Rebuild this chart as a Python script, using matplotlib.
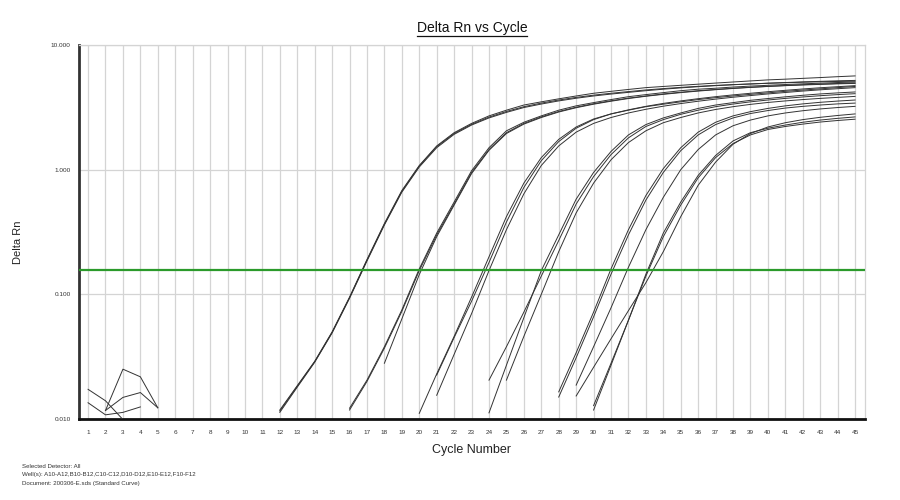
import numpy as np
import matplotlib
matplotlib.use("Agg")
import matplotlib.pyplot as plt
from matplotlib.lines import Line2D

plt.rcParams['font.family'] = ['Liberation Sans', 'DejaVu Sans']

# ---------------- data ----------------
TITLE = "Delta Rn vs Cycle"
X_LABEL = "Cycle Number"
Y_LABEL = "Delta Rn"
X_TICKS = list(range(1, 46))
Y_TICKS = [0.01, 0.1, 1.0, 10.0]
Y_TICK_LABELS = ["0.010", "0.100", "1.000", "10.000"]
THRESHOLD = 0.156
FOOTER = ["Selected Detector: All",
          "Well(s): A10-A12,B10-B12,C10-C12,D10-D12,E10-E12,F10-F12",
          "Document: 200306-E.sds (Standard Curve)"]

# early-cycle noise segments
N1_START = 1
N1 = [0.0173, 0.0140, 0.0099]
N2_START = 1
N2 = [0.0135, 0.0108, 0.0113, 0.0125]
N3_START = 2
N3 = [0.0117, 0.0251, 0.0218, 0.0123]
N4_START = 2
N4 = [0.0117, 0.0149, 0.0163, 0.0123]

# amplification curves (start cycle, values up to cycle 45)
G1_R1_START = 12
G1_R1 = [0.0118, 0.0185, 0.029, 0.050, 0.095, 0.19, 0.37, 0.68, 1.08, 1.55, 1.98, 2.35, 2.7, 3.0, 3.3, 3.5, 3.7,
         3.9, 4.1, 4.25, 4.4, 4.55, 4.65, 4.75, 4.85, 4.95, 5.05, 5.15, 5.25, 5.32, 5.4, 5.48, 5.57, 5.65]
G1_R2_START = 12
G1_R2 = [0.0113, 0.018, 0.0285, 0.049, 0.093, 0.185, 0.36, 0.66, 1.05, 1.5, 1.92, 2.28, 2.6, 2.88, 3.15, 3.36, 3.56,
         3.74, 3.9, 4.04, 4.17, 4.3, 4.42, 4.53, 4.63, 4.72, 4.8, 4.87, 4.94, 5.0, 5.06, 5.11, 5.16, 5.2]
G1_R3_START = 12
G1_R3 = [0.0116, 0.0183, 0.0288, 0.0495, 0.094, 0.188, 0.365, 0.67, 1.07, 1.53, 1.95, 2.31, 2.64, 2.93, 3.2, 3.42,
         3.62, 3.8, 3.96, 4.1, 4.23, 4.36, 4.47, 4.57, 4.66, 4.74, 4.81, 4.87, 4.93, 4.98, 5.03, 5.07, 5.1, 5.13]
G2_R1_START = 16
G2_R1 = [0.0122, 0.0205, 0.038, 0.075, 0.16, 0.31, 0.55, 0.98, 1.5, 2.05, 2.4, 2.7, 3.0, 3.25, 3.45, 3.65, 3.85,
         4.0, 4.15, 4.3, 4.42, 4.5, 4.6, 4.68, 4.75, 4.82, 4.88, 4.94, 5.0, 5.05]
G2_R2_START = 16
G2_R2 = [0.0118, 0.02, 0.037, 0.073, 0.155, 0.3, 0.53, 0.95, 1.45, 1.98, 2.35, 2.65, 2.93, 3.17, 3.38, 3.57, 3.75,
         3.9, 4.05, 4.18, 4.3, 4.4, 4.5, 4.58, 4.66, 4.73, 4.8, 4.86, 4.91, 4.96]
G2_R3_START = 18
G2_R3 = [0.028, 0.0635, 0.144, 0.29, 0.52, 0.93, 1.43, 1.95, 2.32, 2.62, 2.9, 3.14, 3.35, 3.54, 3.72, 3.88, 4.02,
         4.15, 4.27, 4.38, 4.48, 4.57, 4.65, 4.72, 4.78, 4.83, 4.88, 4.92]
G3_R1_START = 20
G3_R1 = [0.0111, 0.023, 0.046, 0.095, 0.2, 0.42, 0.78, 1.25, 1.75, 2.2, 2.55, 2.8, 3.0, 3.2, 3.35, 3.5, 3.65, 3.78,
         3.9, 4.02, 4.13, 4.25, 4.35, 4.45, 4.55, 4.65]
G3_R2_START = 21
G3_R2 = [0.0225, 0.045, 0.088, 0.18, 0.38, 0.72, 1.18, 1.68, 2.15, 2.52, 2.8, 3.02, 3.22, 3.4, 3.56, 3.71, 3.85,
         3.98, 4.1, 4.22, 4.33, 4.44, 4.54, 4.63, 4.72]
G3_R3_START = 21
G3_R3 = [0.0155, 0.033, 0.07, 0.155, 0.33, 0.64, 1.08, 1.55, 2.0, 2.35, 2.62, 2.85, 3.05, 3.23, 3.39, 3.54, 3.68,
         3.81, 3.93, 4.05, 4.16, 4.27, 4.37, 4.46, 4.55]
G4_R1_START = 24
G4_R1 = [0.0112, 0.027, 0.065, 0.155, 0.3, 0.58, 0.95, 1.4, 1.9, 2.3, 2.6, 2.85, 3.1, 3.3, 3.45, 3.6, 3.72, 3.84,
         3.95, 4.05, 4.13, 4.2]
G4_R2_START = 24
G4_R2 = [0.0205, 0.038, 0.072, 0.14, 0.27, 0.53, 0.88, 1.32, 1.8, 2.22, 2.52, 2.78, 3.0, 3.2, 3.36, 3.5, 3.62,
         3.73, 3.83, 3.92, 4.0, 4.07]
G4_R3_START = 25
G4_R3 = [0.0205, 0.046, 0.1, 0.22, 0.45, 0.78, 1.2, 1.65, 2.05, 2.38, 2.62, 2.85, 3.04, 3.2, 3.34, 3.46, 3.56,
         3.65, 3.73, 3.8, 3.87]
G5_R1_START = 28
G5_R1 = [0.0165, 0.034, 0.072, 0.16, 0.33, 0.62, 1.02, 1.5, 2.0, 2.4, 2.7, 2.92, 3.1, 3.25, 3.37, 3.47, 3.55, 3.62]
G5_R2_START = 28
G5_R2 = [0.015, 0.031, 0.066, 0.145, 0.3, 0.57, 0.95, 1.42, 1.9, 2.3, 2.6, 2.82, 2.98, 3.12, 3.22, 3.3, 3.37, 3.42]
G5_R3_START = 29
G5_R3 = [0.0187, 0.038, 0.078, 0.165, 0.33, 0.6, 1.0, 1.45, 1.9, 2.25, 2.5, 2.7, 2.85, 2.97, 3.07, 3.15, 3.22]
G6_R1_START = 30
G6_R1 = [0.0118, 0.027, 0.062, 0.145, 0.31, 0.55, 0.9, 1.3, 1.7, 1.98, 2.15, 2.28, 2.4, 2.5, 2.58, 2.65]
G6_R2_START = 30
G6_R2 = [0.0128, 0.028, 0.062, 0.14, 0.29, 0.52, 0.86, 1.25, 1.62, 1.9, 2.1, 2.22, 2.32, 2.41, 2.48, 2.54]
G6_R3_START = 29
G6_R3 = [0.0153, 0.026, 0.044, 0.074, 0.124, 0.22, 0.42, 0.75, 1.15, 1.6, 1.95, 2.2, 2.38, 2.52, 2.63, 2.72, 2.8]

SERIES = [
    (N1_START, N1), (N2_START, N2), (N3_START, N3), (N4_START, N4),
    (G1_R1_START, G1_R1), (G1_R2_START, G1_R2), (G1_R3_START, G1_R3),
    (G2_R1_START, G2_R1), (G2_R2_START, G2_R2), (G2_R3_START, G2_R3),
    (G3_R1_START, G3_R1), (G3_R2_START, G3_R2), (G3_R3_START, G3_R3),
    (G4_R1_START, G4_R1), (G4_R2_START, G4_R2), (G4_R3_START, G4_R3),
    (G5_R1_START, G5_R1), (G5_R2_START, G5_R2), (G5_R3_START, G5_R3),
    (G6_R1_START, G6_R1), (G6_R2_START, G6_R2), (G6_R3_START, G6_R3),
]

# ---------------- figure ----------------
W, H = 900, 500
fig = plt.figure(figsize=(W / 100, H / 100), dpi=100)
fig.patch.set_facecolor("white")
ax_l, ax_r, ax_t, ax_b = 79, 865, 45, 419
ax = fig.add_axes([ax_l / W, 1 - ax_b / H, (ax_r - ax_l) / W, (ax_b - ax_t) / H])

ax.set_yscale("log")
ax.set_xlim(0.48, 45.57)
ax.set_ylim(0.01, 10)

for start, vals in SERIES:
    x = np.arange(start, start + len(vals))
    ax.plot(x, vals, color="#333333", lw=0.7, zorder=3)

ax.axhline(THRESHOLD, color="#2b9a2b", lw=1.6, zorder=4)

# grid
ax.set_xticks(X_TICKS)
ax.set_xticklabels([str(t) for t in X_TICKS])
ax.set_yticks(Y_TICKS)
ax.set_yticklabels(Y_TICK_LABELS)
ax.yaxis.set_minor_locator(matplotlib.ticker.NullLocator())
ax.grid(True, which="major", color="#d4d4d4", lw=0.9, zorder=0)
ax.set_axisbelow(True)
ax.tick_params(axis="both", length=0, labelsize=4.6, colors="#333333")
ax.tick_params(axis="x", pad=8)
ax.tick_params(axis="y", pad=6)

for side in ("top", "right"):
    ax.spines[side].set_color("#d4d4d4")
    ax.spines[side].set_linewidth(0.9)
ax.spines["left"].set_color("#333333")
ax.spines["left"].set_linewidth(2.0)
ax.spines["bottom"].set_color("#111111")
ax.spines["bottom"].set_linewidth(2.0)

ax.set_xlabel(X_LABEL, fontsize=9, color="#222222")
ax.xaxis.set_label_coords(0.5, -(444 - ax_b) / (ax_b - ax_t))
ax.set_ylabel(Y_LABEL, fontsize=8, color="#222222")
ax.yaxis.set_label_coords(-(ax_l - 18) / (ax_r - ax_l), (ax_b - 242) / (ax_b - ax_t))
ax.yaxis.label.set_va("center")

title = fig.text(472 / W, 1 - 28 / H, TITLE, ha="center", va="center", fontsize=10, color="#111111")

for i, line in enumerate(FOOTER):
    fig.text(22 / W, 1 - (466 + 8.7 * i) / H, line, ha="left", va="center", fontsize=4.4, color="#333333")

# underline the title
fig.canvas.draw()
bb = title.get_window_extent(renderer=fig.canvas.get_renderer())
inv = fig.transFigure.inverted()
(x0, y0), (x1, _) = inv.transform([(bb.x0, bb.y0 - 1.0), (bb.x1, bb.y0 - 1.0)])
fig.add_artist(Line2D([x0, x1], [y0, y0], transform=fig.transFigure, color="#111111", lw=0.9))

fig.savefig("out.png", dpi=100, facecolor="white")
